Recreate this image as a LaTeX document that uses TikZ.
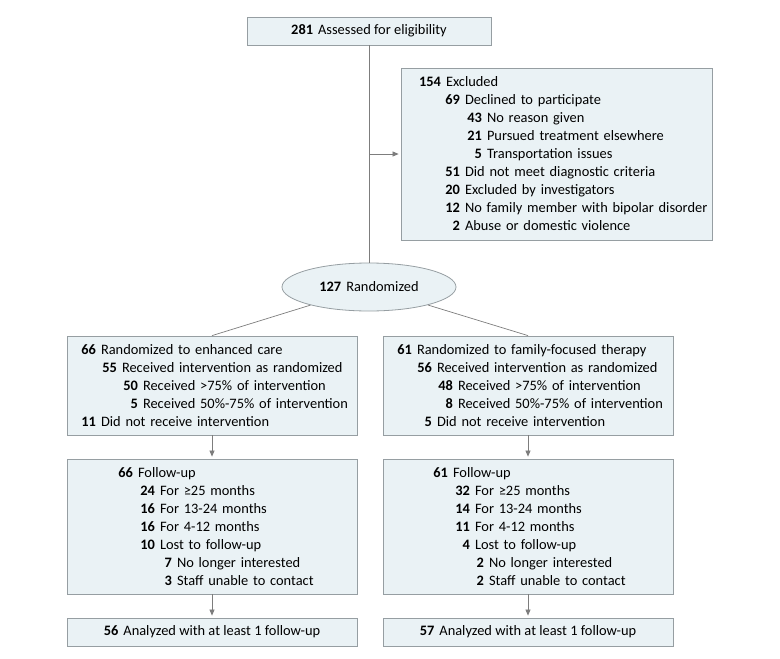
\documentclass[tikz,border=0pt]{standalone}
\usepackage{fontspec}
\setmainfont{Carlito}
\usetikzlibrary{shapes.geometric,arrows.meta}
\definecolor{boxfill}{RGB}{234,242,245}
\definecolor{boxline}{RGB}{150,158,162}
\definecolor{connc}{RGB}{125,125,125}
\newcommand\ent[3]{\hspace*{#1pt}\llap{\bfseries #2}\hspace{5pt}#3}
\begin{document}
\begin{tikzpicture}[x=1pt,y=-1pt,
  box/.style={draw=boxline, fill=boxfill, line width=0.8pt, inner sep=0pt,
    font=\fontsize{14.4}{18}\selectfont},
  listbox/.style={box, align=left, text width=#1, minimum width=#1},
  conn/.style={draw=connc, line width=0.7pt},
  arr/.style={conn, -{Triangle[length=6pt,width=5pt]}, shorten >=2pt}]
\useasboundingbox (0,0) rectangle (780,659);

\node[box, minimum width=244pt, minimum height=28pt] (assess) at (369,31)
  {\textbf{281}\hspace{5pt}Assessed for eligibility};

\node[listbox=311pt, minimum height=172pt] (excl) at (556.5,154) {%
\ent{40}{154}{Excluded}\\
\ent{59}{69}{Declined to participate}\\
\ent{81}{43}{No reason given}\\
\ent{81}{21}{Pursued treatment elsewhere}\\
\ent{81}{5}{Transportation issues}\\
\ent{59}{51}{Did not meet diagnostic criteria}\\
\ent{59}{20}{Excluded by investigators}\\
\ent{59}{12}{No family member with bipolar disorder}\\
\ent{59}{2}{Abuse or domestic violence}};

\node[box, ellipse, minimum width=174pt, minimum height=48pt] (rand) at (369,287)
  {\textbf{127}\hspace{5pt}Randomized};

\node[listbox=290pt, minimum height=99pt] (L1) at (212,385.5) {%
\ent{29}{66}{Randomized to enhanced care}\\
\ent{50}{55}{Received intervention as randomized}\\
\ent{71}{50}{Received >75\% of intervention}\\
\ent{71}{5}{Received 50\%-75\% of intervention}\\
\ent{29}{11}{Did not receive intervention}};

\node[listbox=290pt, minimum height=99pt] (R1) at (528,385.5) {%
\ent{29}{61}{Randomized to family-focused therapy}\\
\ent{49}{56}{Received intervention as randomized}\\
\ent{70}{48}{Received >75\% of intervention}\\
\ent{70}{8}{Received 50\%-75\% of intervention}\\
\ent{49}{5}{Did not receive intervention}};

\node[listbox=290pt, minimum height=135pt] (L2) at (212,526.5) {%
\ent{66}{66}{Follow-up}\\
\ent{88}{24}{For ≥25 months}\\
\ent{88}{16}{For 13-24 months}\\
\ent{88}{16}{For 4-12 months}\\
\ent{88}{10}{Lost to follow-up}\\
\ent{105}{7}{No longer interested}\\
\ent{105}{3}{Staff unable to contact}};

\node[listbox=290pt, minimum height=135pt] (R2) at (528,526.5) {%
\ent{65}{61}{Follow-up}\\
\ent{87}{32}{For ≥25 months}\\
\ent{87}{14}{For 13-24 months}\\
\ent{87}{11}{For 4-12 months}\\
\ent{87}{4}{Lost to follow-up}\\
\ent{101}{2}{No longer interested}\\
\ent{101}{2}{Staff unable to contact}};

\node[box, minimum width=290pt, minimum height=28pt] (L3) at (212,632)
  {\textbf{56}\hspace{5pt}Analyzed with at least 1 follow-up};
\node[box, minimum width=290pt, minimum height=28pt] (R3) at (528,632)
  {\textbf{57}\hspace{5pt}Analyzed with at least 1 follow-up};

\draw[conn] (assess.south) -- (rand.north);
\coordinate (br) at (assess.south |- excl.west);
\draw[arr] (br) -- (excl.west);
\draw[conn] (rand) -- (L1.north);
\draw[conn] (rand) -- (R1.north);
\draw[arr] (L1.south) -- (L2.north);
\draw[arr] (R1.south) -- (R2.north);
\draw[arr] (L2.south) -- (L3.north);
\draw[arr] (R2.south) -- (R3.north);
\end{tikzpicture}
\end{document}
